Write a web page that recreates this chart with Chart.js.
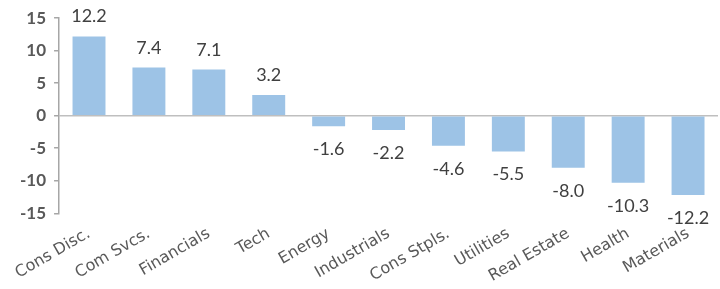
<!DOCTYPE html>
<html>
<head>
<meta charset="utf-8">
<script src="https://cdn.jsdelivr.net/npm/chart.js@4/dist/chart.umd.min.js"></script>
<style>
  body { margin: 0; background: #fff; }
  #wrap { width: 720px; height: 289px; }
</style>
</head>
<body>
<div id="wrap"><canvas id="myChart"></canvas></div>
<script>
const sectors = ["Cons Disc.", "Com Svcs.", "Financials", "Tech", "Energy", "Industrials",
  "Cons Stpls.", "Utilities", "Real Estate", "Health", "Materials"];
const returns = [12.2, 7.4, 7.1, 3.2, -1.6, -2.2, -4.6, -5.5, -8.0, -10.3, -12.2];
const yTicks = [15, 10, 5, 0, -5, -10, -15];

// value labels above / below each bar
const barLabels = {
  id: "barLabels",
  afterDatasetsDraw(chart) {
    const ctx = chart.ctx;
    const meta = chart.getDatasetMeta(0);
    ctx.save();
    ctx.font = "18px Lato";
    ctx.fillStyle = "#404040";
    ctx.textAlign = "center";
    ctx.textBaseline = "alphabetic";
    meta.data.forEach((bar, i) => {
      const v = returns[i];
      if (v >= 0) {
        ctx.fillText(v.toFixed(1), bar.x, bar.y - 14);
      } else {
        ctx.fillText(v.toFixed(1), bar.x, bar.y + 29);
      }
    });
    ctx.restore();
  },
};

const dataReturns = {
  labels: sectors,
  datasets: [
    {
      data: returns,
      backgroundColor: "#9dc3e6",
      barPercentage: 0.55,
      categoryPercentage: 1,
    },
  ],
};

const config = {
  type: "bar",
  data: dataReturns,
  options: {
    responsive: true,
    maintainAspectRatio: false,
    animation: false,
    layout: { padding: { top: 18, right: 2, left: 12, bottom: 0 } },
    plugins: { legend: { display: false }, tooltip: { enabled: false } },
    scales: {
      x: {
        grid: { display: false },
        border: { display: false },
        ticks: {
          minRotation: 30,
          maxRotation: 30,
          color: "#595959",
          font: { family: "DejaVu Sans", size: 16 },
          padding: 3,
        },
      },
      y: {
        min: -15,
        max: 15,
        afterBuildTicks(axis) {
          axis.ticks = yTicks.map((v) => ({ value: v }));
        },
        grid: {
          color: (c) => (c.tick && c.tick.value === 0 ? "#bfbfbf" : "rgba(0,0,0,0)"),
          tickColor: "#a6a6a6",
          tickLength: 5,
          lineWidth: 1.5,
        },
        border: { display: true, color: "#a6a6a6", width: 1.5 },
        ticks: {
          color: "#595959",
          font: { family: "Lato", size: 17, weight: "bold" },
          padding: 8,
        },
      },
    },
  },
  plugins: [barLabels],
};

const myChart = new Chart(document.getElementById("myChart"), config);
</script>
</body>
</html>
